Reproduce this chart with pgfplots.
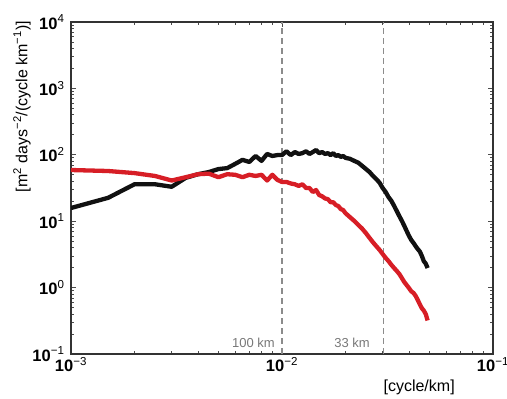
\documentclass[border=0pt]{standalone}
\usepackage{fontspec}
\setmainfont{Liberation Sans}
\usepackage{pgfplots}
\usepackage{pgfplotstable}
\pgfplotsset{compat=1.18}
\definecolor{myred}{RGB}{215,30,38}
\definecolor{myblack}{RGB}{17,17,17}
\definecolor{dashgray}{RGB}{140,140,140}
\definecolor{labgray}{RGB}{120,120,120}

\pgfplotstableread{
f v
0.0010 15.8
0.0015 22.5
0.0020 36
0.0025 36
0.0030 33
0.0035 45
0.0040 51
0.0045 55
0.0050 61
0.0055 63
0.0060 73
0.0065 84
0.0070 78
0.0075 96
0.0080 81
0.0085 103
0.0090 96
0.0095 99
0.0100 99
0.0105 113
0.0110 99
0.0115 110
0.0120 103
0.0125 106
0.0130 113
0.0135 103
0.0140 110
0.0145 118
0.0150 106
0.0155 110
0.0160 103
0.0165 106
0.0170 99
0.0175 106
0.0180 96
0.0185 99
0.0190 93
0.0195 96
0.0200 90
0.0210 87
0.0220 81
0.0230 76
0.0240 68
0.0250 61
0.0260 55
0.0270 48
0.0280 43
0.0290 38
0.0300 31.6
0.0310 27.5
0.0320 23
0.0330 20.2
0.0340 17
0.0350 14.2
0.0360 11.9
0.0370 10.1
0.0380 8.5
0.0390 7.1
0.0400 6.0
0.0410 5.2
0.0420 4.7
0.0430 4.2
0.0440 3.8
0.0450 3.5
0.0460 3.0
0.0470 2.5
0.0480 2.3
0.0490 1.97
}\blackdata

\pgfplotstableread{
f v
0.0010 59
0.0015 57
0.0020 53
0.0025 48
0.0030 41
0.0035 46
0.0040 51
0.0045 52
0.0050 46
0.0055 51
0.0060 50
0.0065 46
0.0070 50
0.0075 48
0.0080 50
0.0085 41
0.0090 50
0.0095 42
0.0100 39
0.0105 39
0.0110 37
0.0115 36
0.0120 34
0.0125 36
0.0130 31.6
0.0135 31.6
0.0140 27.5
0.0145 29.5
0.0150 24.8
0.0155 23.7
0.0160 22
0.0165 21.5
0.0170 19.3
0.0175 19.3
0.0180 17.5
0.0185 16.9
0.0190 15.2
0.0195 14.7
0.0200 13.2
0.0210 11.5
0.0220 10.1
0.0230 8.8
0.0240 7.7
0.0250 6.6
0.0260 5.6
0.0270 4.8
0.0280 4.2
0.0290 3.7
0.0300 3.2
0.0310 2.8
0.0320 2.5
0.0330 2.2
0.0340 1.97
0.0350 1.78
0.0360 1.6
0.0370 1.39
0.0380 1.21
0.0390 1.09
0.0400 0.98
0.0410 0.88
0.0420 0.83
0.0430 0.75
0.0440 0.65
0.0450 0.56
0.0460 0.49
0.0470 0.45
0.0480 0.40
0.0490 0.32
}\reddata

\begin{document}
\begin{tikzpicture}
\useasboundingbox (-71pt,-45pt) rectangle (436pt,354pt);
\begin{loglogaxis}[
  at={(0pt,0pt)}, anchor=south west,
  scale only axis, width=422pt, height=332pt,
  xmin=1e-3, xmax=1e-1, ymin=1e-1, ymax=1e4,
  xtick={1e-3,1e-2,1e-1},
  xticklabels={{\textbf{10}\textsuperscript{−3}},{\textbf{10}\textsuperscript{−2}},{\textbf{10}\textsuperscript{−1}}},
  ytick={1e-1,1,10,100,1000,10000},
  yticklabels={{\textbf{10}\textsuperscript{−1}},{\textbf{10}\textsuperscript{0}},{\textbf{10}\textsuperscript{1}},{\textbf{10}\textsuperscript{2}},{\textbf{10}\textsuperscript{3}},{\textbf{10}\textsuperscript{4}}},
  tick align=inside,
  major tick length=5pt, minor tick length=3pt,
  every tick/.style={black!70, line width=0.7pt},
  axis line style={black!80, line width=1.6pt},
  tick label style={font=\fontsize{16.5}{18}\selectfont},
  yticklabel style={xshift=-3pt},
  xlabel={[cycle/km]},
  xlabel style={at={(axis description cs:0.825,-0.099)}, anchor=center, font=\fontsize{16}{18}\selectfont},
  ylabel={[m\textsuperscript{2} days\textsuperscript{−2}/(cycle km\textsuperscript{−1})]},
  ylabel style={at={(axis description cs:-0.116,0.745)}, anchor=center, font=\fontsize{16}{18}\selectfont},
]
\addplot[dashgray, line width=1.3pt, dash pattern=on 6pt off 4pt] coordinates {(0.01,0.1) (0.01,10000)};
\addplot[dashgray, line width=1.3pt, dash pattern=on 6pt off 4pt] coordinates {(0.0303,0.1) (0.0303,10000)};
\addplot[myblack, line width=4.3pt, line join=round] table[x=f,y=v] {\blackdata};
\addplot[myred, line width=4.3pt, line join=round] table[x=f,y=v] {\reddata};
\node[anchor=east, inner sep=0pt, text=labgray, font=\fontsize{13}{15}\selectfont] at (axis cs:0.00926,0.147) {100 km};
\node[anchor=east, inner sep=0pt, text=labgray, font=\fontsize{13}{15}\selectfont] at (axis cs:0.0261,0.147) {33 km};
\end{loglogaxis}
\end{tikzpicture}
\end{document}
